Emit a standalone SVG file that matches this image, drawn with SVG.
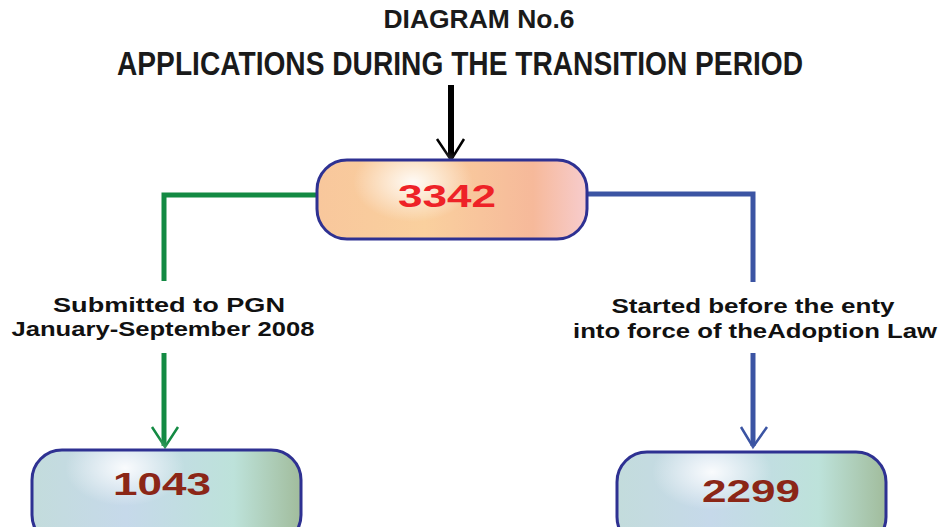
<svg xmlns="http://www.w3.org/2000/svg" width="940" height="527" viewBox="0 0 940 527">
<defs>
<linearGradient id="lTop" x1="0" y1="0" x2="1" y2="0">
<stop offset="0" stop-color="#f8c79c"/>
<stop offset="0.4" stop-color="#fad09e"/>
<stop offset="0.8" stop-color="#f6b99a"/>
<stop offset="1" stop-color="#f7cccd"/>
</linearGradient>
<linearGradient id="lBot" x1="0" y1="0" x2="1" y2="0">
<stop offset="0" stop-color="#c3dcdc"/>
<stop offset="0.35" stop-color="#c6d9ea"/>
<stop offset="0.75" stop-color="#bde2da"/>
<stop offset="1" stop-color="#a1bc9c"/>
</linearGradient>
<radialGradient id="hl" cx="0.5" cy="0.5" r="0.5">
<stop offset="0" stop-color="#ffffff" stop-opacity="1"/>
<stop offset="1" stop-color="#ffffff" stop-opacity="0"/>
</radialGradient>
</defs>
<style>
.node{stroke:#2e3192;stroke-width:3}
.num{font-family:"Liberation Sans",Arial,sans-serif;font-weight:bold;font-size:32px;text-anchor:middle}
.lbl{font-family:"Liberation Sans",Arial,sans-serif;font-weight:bold;font-size:21px;fill:#111;text-anchor:middle}
.ttl{font-family:"Liberation Sans",Arial,sans-serif;font-weight:bold;fill:#1a1a1a;text-anchor:middle}
.g{stroke:#138a43;fill:none}
.b{stroke:#3b54a3;fill:none}
</style>
<g id="title">
<text class="ttl" x="479" y="28" font-size="25" textLength="191" lengthAdjust="spacingAndGlyphs">DIAGRAM No.6</text>
<text class="ttl" x="460" y="75" font-size="33" textLength="686" lengthAdjust="spacingAndGlyphs">APPLICATIONS DURING THE TRANSITION PERIOD</text>
</g>
<g id="connectors">
<line x1="451" y1="85" x2="451" y2="158" stroke="#000" stroke-width="6"/>
<polyline points="437,139 451,160 464,139" fill="none" stroke="#000" stroke-width="2.5"/>
<polyline class="g" points="317,195 164,195 164,281" stroke-width="5"/>
<line class="g" x1="164" y1="353" x2="164" y2="446" stroke-width="5"/>
<polyline class="g" points="152,427 165,447 178,427" stroke-width="2.5"/>
<polyline class="b" points="587,194 753,194 753,282" stroke-width="5"/>
<line class="b" x1="753" y1="353" x2="753" y2="446" stroke-width="5"/>
<polyline class="b" points="741,427 753,447 767,427" stroke-width="2.5"/>
</g>
<g id="label-left">
<text class="lbl" x="169" y="312" textLength="232" lengthAdjust="spacingAndGlyphs">Submitted to PGN</text>
<text class="lbl" x="163" y="336" textLength="303" lengthAdjust="spacingAndGlyphs">January-September 2008</text>
</g>
<g id="label-right">
<text class="lbl" x="753" y="313" textLength="283" lengthAdjust="spacingAndGlyphs">Started before the enty</text>
<text class="lbl" x="755" y="338" textLength="364" lengthAdjust="spacingAndGlyphs">into force of theAdoption Law</text>
</g>
<g id="node-3342">
<rect x="317" y="160" width="270" height="79" rx="30" fill="url(#lTop)"/>
<ellipse cx="413" cy="182" rx="60" ry="40" fill="url(#hl)" opacity="0.9"/>
<rect class="node" x="317" y="160" width="270" height="79" rx="30" fill="none"/>
<text class="num" x="447" y="207" fill="#ee2227" textLength="98" lengthAdjust="spacingAndGlyphs">3342</text>
</g>
<g id="node-1043">
<rect x="32" y="450" width="269" height="95" rx="30" fill="url(#lBot)"/>
<ellipse cx="125" cy="468" rx="60" ry="38" fill="url(#hl)" opacity="0.9"/>
<rect class="node" x="32" y="450" width="269" height="95" rx="30" fill="none"/>
<text class="num" x="162" y="495" fill="#8b2617" textLength="98" lengthAdjust="spacingAndGlyphs">1043</text>
</g>
<g id="node-2299">
<rect x="617" y="452" width="269" height="95" rx="30" fill="url(#lBot)"/>
<ellipse cx="712" cy="472" rx="60" ry="38" fill="url(#hl)" opacity="0.9"/>
<rect class="node" x="617" y="452" width="269" height="95" rx="30" fill="none"/>
<text class="num" x="751" y="502" fill="#8b2617" textLength="98" lengthAdjust="spacingAndGlyphs">2299</text>
</g>
</svg>
